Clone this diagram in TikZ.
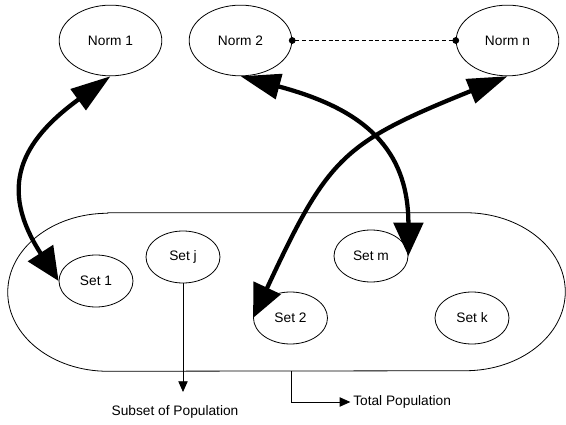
\documentclass[tikz,border=0pt]{standalone}
\usepackage{fontspec}
\setsansfont{Liberation Sans}
\usepackage{tikz}
\usetikzlibrary{shapes,arrows.meta,positioning}

\begin{document}
\begin{tikzpicture}[x=0.75pt, y=0.75pt,
  every node/.style={font=\sffamily\fontsize{10.3}{12}\selectfont, inner sep=0pt},
  norm/.style={draw, ellipse, line width=0.6pt, minimum width=77pt, minimum height=53pt},
  set/.style={draw, ellipse, line width=0.6pt, minimum width=55.5pt, minimum height=39pt},
  link/.style={line width=3.2pt, {Triangle[length=30pt,width=19pt]}-{Triangle[length=25pt,width=22pt]}},
  thinarrow/.style={line width=0.6pt, -{Triangle[length=8pt,width=7pt]}}]
\useasboundingbox (0,0) rectangle (566,424);
% Nodes
\node[norm] (norm1) at (110.5,383.5) {Norm 1};
\node[norm] (norm2) at (240.5,383.5) {Norm 2};
\node[norm] (normn) at (507.5,383.5) {Norm n};
\node[minimum width=417.75pt, minimum height=118.5pt] (pop) at (286.5,132) {};
\draw[line width=0.6pt] ([xshift=75pt]pop.north west) -- ([xshift=-75pt]pop.north east)
  arc[start angle=90, end angle=-90, x radius=75pt, y radius=59.25pt]
  -- ([xshift=75pt]pop.south west)
  arc[start angle=270, end angle=90, x radius=75pt, y radius=59.25pt] -- cycle;
\node[set] (set1) at (96,143) {Set 1};
\node[set] (setj) at (183,167) {Set j};
\node[set] (setm) at (371,168) {Set m};
\node[set] (set2) at (290.5,106) {Set 2};
\node[set] (setk) at (472,106) {Set k};
\coordinate (subtip) at (183,32);
\node (subset) at (175,12) {Subset of Population};
\node[anchor=west] (total) at (353,22) {Total Population};
% Arrows
\draw[link] (norm1.south) to[out=216, in=123, looseness=1.35] (set1.west);
\draw[link] (norm2.south) to[out=345, in=90, looseness=1.2] (setm.east);
\draw[link] (normn.south) to[out=202, in=65, looseness=1.3] (set2.west);
\draw[line width=0.6pt, dash pattern=on 3pt off 2pt, {Circle[length=5pt]}-{Circle[length=5pt]}, shorten <=-2.5pt, shorten >=-2.5pt] (norm2.east) -- (normn.west);
\draw[thinarrow] (setj.south) -- (subtip);
\draw[thinarrow, shorten >=2pt] ([xshift=3.4pt]pop.south) |- (total.west);
\end{tikzpicture}
\end{document}
